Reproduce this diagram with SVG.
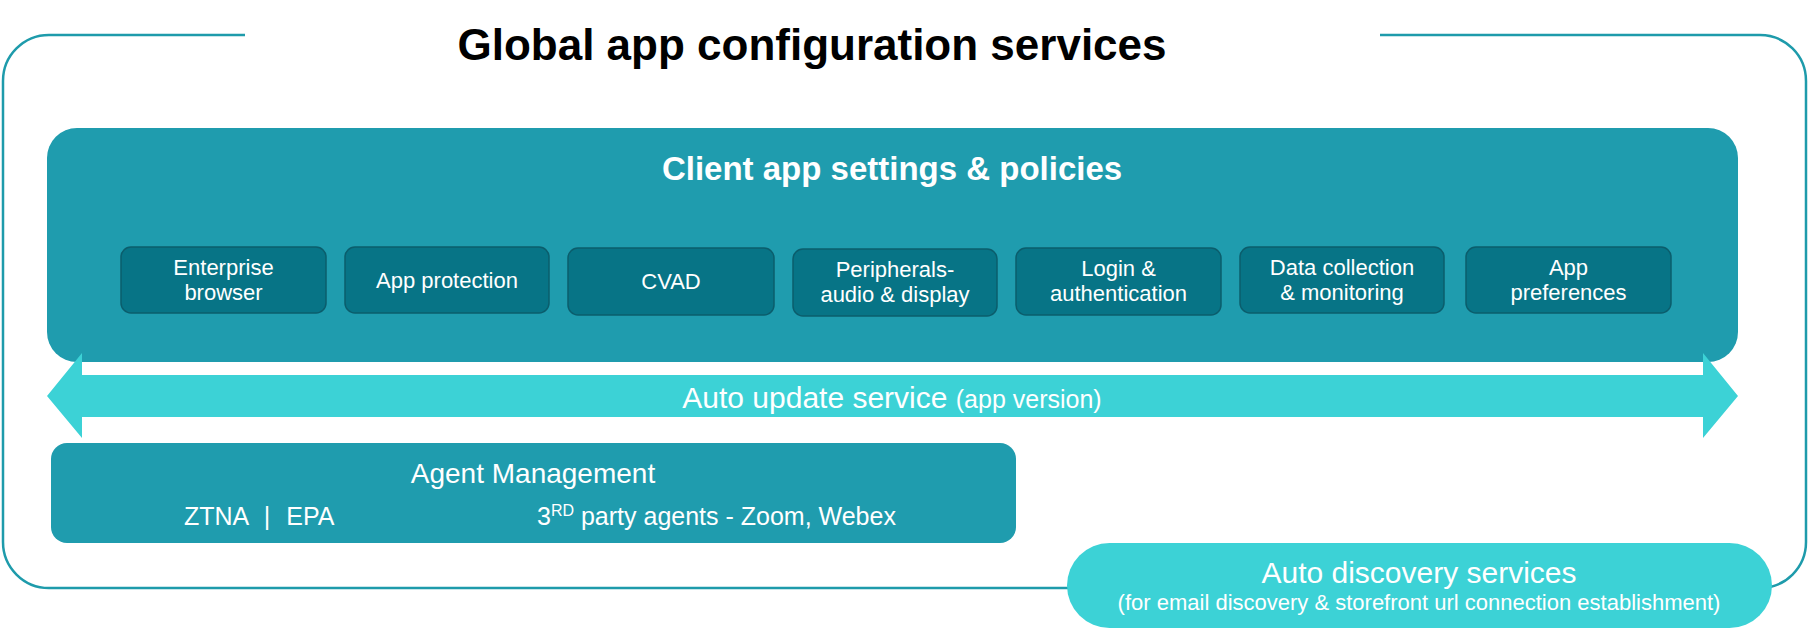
<svg xmlns="http://www.w3.org/2000/svg" width="1808" height="634" viewBox="0 0 1808 634">
<style>
text{font-family:"Liberation Sans",Arial,sans-serif}
.panel{fill:#1f9cae}
.sub{fill:#077486;stroke:#0b5d6c;stroke-width:1.5}
.cyan{fill:#3cd2d6}
.w{fill:#ffffff}
.sbt{font-size:22px;fill:#ffffff;text-anchor:middle}
</style>
<rect width="1808" height="634" fill="#ffffff"/>
<g id="outer-frame">
<path d="M245,35 H49 A46,46 0 0 0 3,81 V542 A46,46 0 0 0 49,588 H1760 A46,46 0 0 0 1806,542 V81 A46,46 0 0 0 1760,35 H1380" fill="none" stroke="#1e9bab" stroke-width="2.5"/>
<text x="812" y="60" font-size="44" font-weight="bold" text-anchor="middle" fill="#000000">Global app configuration services</text>
</g>
<g id="client-panel">
<rect class="panel" x="47" y="128" width="1691" height="234" rx="30"/>
<text x="892" y="180" font-size="33" font-weight="bold" text-anchor="middle" class="w">Client app settings &amp; policies</text>
</g>
<g id="box-enterprise-browser">
<rect class="sub" x="121" y="247" width="205" height="66" rx="10"/>
<text class="sbt" x="223.5" y="275">Enterprise</text>
<text class="sbt" x="223.5" y="300">browser</text>
</g>
<g id="box-app-protection">
<rect class="sub" x="345" y="247" width="204" height="66" rx="10"/>
<text class="sbt" x="447" y="288">App protection</text>
</g>
<g id="box-cvad">
<rect class="sub" x="568" y="248" width="206" height="67" rx="10"/>
<text class="sbt" x="671" y="289">CVAD</text>
</g>
<g id="box-peripherals">
<rect class="sub" x="793" y="249" width="204" height="67" rx="10"/>
<text class="sbt" x="895" y="277">Peripherals-</text>
<text class="sbt" x="895" y="302">audio &amp; display</text>
</g>
<g id="box-login">
<rect class="sub" x="1016" y="248" width="205" height="67" rx="10"/>
<text class="sbt" x="1118.5" y="276">Login &amp;</text>
<text class="sbt" x="1118.5" y="301">authentication</text>
</g>
<g id="box-data-collection">
<rect class="sub" x="1240" y="247" width="204" height="66" rx="10"/>
<text class="sbt" x="1342" y="275">Data collection</text>
<text class="sbt" x="1342" y="300">&amp; monitoring</text>
</g>
<g id="box-app-preferences">
<rect class="sub" x="1466" y="247" width="205" height="66" rx="10"/>
<text class="sbt" x="1568.5" y="275">App</text>
<text class="sbt" x="1568.5" y="300">preferences</text>
</g>
<g id="connectors">
<polygon class="cyan" points="47,396 82,353 82,375 1703,375 1703,353 1738,396 1703,438 1703,417 82,417 82,438"/>
<text x="892" y="408" text-anchor="middle" class="w" font-size="30">Auto update service <tspan font-size="25">(app version)</tspan></text>
</g>
<g id="agent-management">
<rect class="panel" x="51" y="443" width="965" height="100" rx="16"/>
<text x="533" y="483" font-size="28" text-anchor="middle" class="w">Agent Management</text>
<text x="184" y="525" font-size="25" class="w" word-spacing="9">ZTNA | EPA</text>
<text x="537" y="525" font-size="25" class="w">3<tspan font-size="16" dy="-9">RD</tspan><tspan dy="9"> party agents - Zoom, Webex</tspan></text>
</g>
<g id="auto-discovery">
<rect class="cyan" x="1067" y="543" width="705" height="85" rx="42.5"/>
<text x="1419" y="583" font-size="30" text-anchor="middle" class="w">Auto discovery services</text>
<text x="1419" y="610" font-size="22" text-anchor="middle" class="w">(for email discovery &amp; storefront url connection establishment)</text>
</g>
</svg>
